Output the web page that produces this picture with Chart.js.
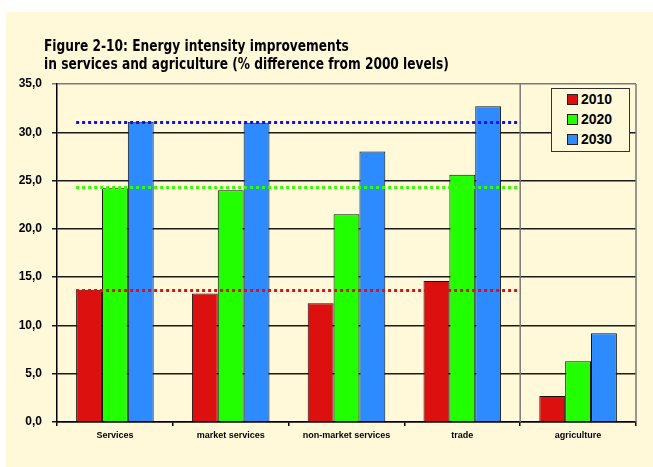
<!DOCTYPE html>
<html>
<head>
<meta charset="utf-8">
<script src="https://cdn.jsdelivr.net/npm/chart.js@4/dist/chart.umd.min.js"></script>
<style>
  body { margin: 0; background: #fff; }
  #panel { position: absolute; left: 6px; top: 12px; width: 647px; height: 455px; background: #FFF9D9; }
  #wrap { position: absolute; left: 0; top: 0; width: 653px; height: 467px; }
  #title { position: absolute; left: 44px; top: 37px; font: bold 15px "Liberation Sans Narrow", "DejaVu Sans Condensed", sans-serif; line-height: 18px; color: #000; white-space: nowrap; transform: scaleX(0.905); transform-origin: left top; }
  #legend { position: absolute; left: 551px; top: 88px; width: 77px; height: 62px; border: 1px solid #333; background: #FFF9D9; font: bold 14px "Liberation Sans", Arial, sans-serif; }
  #legend div { height: 20px; line-height: 20px; padding-left: 15px; }
  #legend span { display: inline-block; width: 9px; height: 9px; border: 1px solid #222; margin-right: 3px; vertical-align: -1px; }
</style>
</head>
<body>
<div id="panel"></div>
<div id="wrap"><canvas id="energyChart" width="653" height="467"></canvas></div>
<div id="title">Figure 2-10: Energy intensity improvements<br>in services and agriculture (% difference from 2000 levels)</div>
<div id="legend"></div>
<script>
// chart data
const sectors = ['Services', 'market services', 'non-market services', 'trade', 'agriculture'];
const years = ['2010', '2020', '2030'];
const values2010 = [13.7, 13.3, 12.3, 14.6, 2.7];
const values2020 = [24.2, 24.0, 21.5, 25.6, 6.3];
const values2030 = [31.1, 31.0, 28.0, 32.7, 9.2];
// services average levels, drawn as dotted lines
const servicesLevels = [13.7, 24.3, 31.1];
const yTicks = [0, 5, 10, 15, 20, 25, 30, 35];

const barColors = ['#DD1010', '#22FF00', '#2E8BFF'];
const lineColors = ['#DD1111', '#33FF00', '#1010F0'];

const legendBox = document.getElementById('legend');
years.forEach(function (y, i) {
    legendBox.innerHTML += '<div><span style="background:' + barColors[i] + '"></span>' + y + '</div>';
});

// dotted level lines, separator and frame
const extrasPlugin = {
    id: 'extras',
    afterDatasetsDraw: function (chart) {
        const ctx = chart.ctx;
        const area = chart.chartArea;
        const x = chart.scales.x;
        const y = chart.scales.y;
        const sepX = (x.getPixelForTick(3) + x.getPixelForTick(4)) / 2;
        const firstBar = chart.getDatasetMeta(0).data[0];
        const startX = firstBar.x - firstBar.width / 2;
        ctx.save();
        ctx.strokeStyle = '#7a7a7a';
        ctx.lineWidth = 1.5;
        ctx.beginPath();
        ctx.moveTo(sepX, area.top);
        ctx.lineTo(sepX, area.bottom);
        ctx.moveTo(area.right, area.top);
        ctx.lineTo(area.right, area.bottom);
        ctx.stroke();
        ctx.lineWidth = 3;
        ctx.setLineDash([3, 3]);
        servicesLevels.forEach(function (v, i) {
            const py = Math.round(y.getPixelForValue(v)) + 0.5;
            ctx.strokeStyle = lineColors[i];
            ctx.beginPath();
            ctx.moveTo(startX, py);
            ctx.lineTo(sepX, py);
            ctx.stroke();
        });
        ctx.restore();
    }
};

new Chart(document.getElementById('energyChart'), {
    type: 'bar',
    data: {
        labels: sectors,
        datasets: [
            { label: years[0], data: values2010, backgroundColor: barColors[0] },
            { label: years[1], data: values2020, backgroundColor: barColors[1] },
            { label: years[2], data: values2030, backgroundColor: barColors[2] }
        ].map(function (d) {
            d.borderColor = '#111';
            d.borderWidth = 1;
            d.borderSkipped = 'bottom';
            d.categoryPercentage = 0.67;
            d.barPercentage = 1;
            return d;
        })
    },
    options: {
        responsive: false,
        animation: false,
        layout: { padding: { top: 84, right: 17, left: 0, bottom: 0 } },
        scales: {
            y: {
                min: 0,
                max: 35,
                afterBuildTicks: function (scale) {
                    scale.ticks = yTicks.map(function (v) { return { value: v }; });
                },
                afterFit: function (scale) { scale.width = 57; },
                ticks: {
                    padding: 10,
                    color: '#000',
                    font: { family: 'Liberation Sans', size: 12, weight: 'bold' },
                    callback: function (v) { return v.toFixed(1).replace('.', ','); }
                },
                grid: {
                    tickLength: 5,
                    lineWidth: 1.5,
                    color: function (c) { return c.tick && c.tick.value === 35 ? '#7a7a7a' : '#1a1a1a'; }
                },
                border: { color: '#000', width: 1.5 }
            },
            x: {
                afterFit: function (scale) { scale.height = 45; },
                ticks: {
                    padding: 4,
                    color: '#000',
                    font: { family: 'Liberation Sans', size: 9, weight: 'bold' }
                },
                grid: { drawOnChartArea: false, tickLength: 4, color: '#000', lineWidth: 1.5 },
                border: { color: '#000', width: 1.5 }
            }
        },
        plugins: {
            legend: { display: false },
            tooltip: { enabled: false }
        }
    },
    plugins: [extrasPlugin]
});
</script>
</body>
</html>
